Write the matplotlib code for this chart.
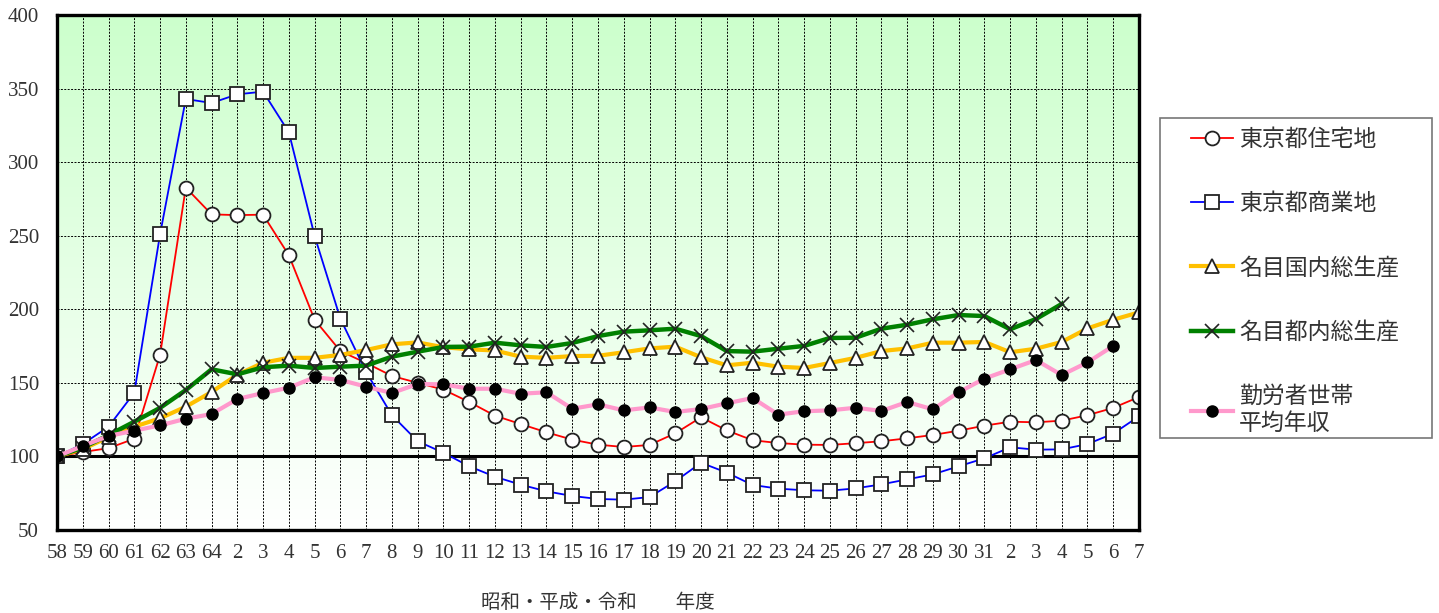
import numpy as np
import matplotlib
matplotlib.use('Agg')
import matplotlib.pyplot as plt
from matplotlib.colors import LinearSegmentedColormap
from matplotlib.patches import Rectangle

plt.rcParams['font.family'] = ['Liberation Serif', 'Noto Sans CJK JP', 'DejaVu Sans']

# 年度ラベル(昭和58〜64、平成2〜31、令和2〜7)
years = ['58', '59', '60', '61', '62', '63', '64'] + [str(i) for i in range(2, 32)] + [str(i) for i in range(2, 8)]

residential = [100, 103, 105.6, 112, 169, 282.7, 264.5, 264, 264.3, 236.7, 192.9, 171.6, 163.5, 154.7, 150,
               145.4, 137, 127.7, 122, 116.4, 111.4, 108, 106.4, 107.8, 115.7, 126.6, 117.7, 111, 109.1,
               108, 107.8, 109, 110.3, 112.3, 114.6, 117.5, 120.9, 123.6, 123.2, 124.3, 128, 133, 140.4]
commercial = [100, 108.4, 120.2, 143.3, 250.9, 342.9, 340.2, 346.1, 347.9, 320.3, 249.8, 193.6, 157.4, 128,
              110.3, 102.5, 93.3, 86.2, 80.8, 76.3, 73.1, 71.1, 70.6, 72.4, 83.1, 95.7, 89, 80.6, 78.1,
              77, 76.7, 78.3, 81, 84.4, 87.8, 93.3, 98.7, 106.2, 104.6, 104.8, 108.4, 115.5, 127.3]
gdp_national = [100, 105, 113, 120.2, 125.9, 133.8, 143.8, 155.5, 163.7, 167, 167, 169, 172.3, 176.2, 177.5,
                174.2, 172.8, 172, 167.8, 167, 168.2, 168.4, 170.8, 173.4, 174.6, 167.4, 161.9, 163.7, 161,
                160.1, 163.5, 167, 171.6, 173.4, 177.3, 177.3, 177.8, 170.8, 173.2, 177.8, 187, 192.9, 197.9]
gdp_tokyo = [100, 106, 114.5, 123.6, 133, 145.1, 159.2, 155.8, 160.6, 161.7, 160.1, 161, 161.7, 167.8, 171.2,
             174.4, 174.6, 177.3, 175.5, 174.4, 177.1, 181.8, 184.8, 185.7, 186.8, 181.8, 171.6, 171.2, 173.2,
             175.1, 180.5, 180.7, 186.8, 189.5, 193.2, 196.1, 195.4, 186.4, 193.4, 203.6]
income = [100, 107.1, 113.9, 117.5, 121.1, 125.6, 128.8, 139, 143.1, 146.7, 153.8, 152, 147.4, 143.1, 149.2,
          149, 146, 146, 142.6, 143.6, 132.4, 135.4, 131.3, 133.3, 130.2, 132.2, 136.1, 139.7, 128.4,
          130.7, 131.3, 133.1, 130.9, 137, 132, 143.6, 152.9, 159.2, 165.5, 155.3, 163.9, 175.1]

W, H = 1439, 613
fig = plt.figure(figsize=(W / 100, H / 100), dpi=100)
ax = fig.add_axes([57 / W, 1 - 530 / H, (1139 - 57) / W, 515 / H])

# 背景のグラデーション(上:薄緑 → 下:白)
cmap = LinearSegmentedColormap.from_list('bg', ['#ffffff', '#ccffcc'])
grad = np.linspace(0, 1, 256).reshape(-1, 1)
ax.imshow(grad, extent=[0, 1, 0, 1], transform=ax.transAxes, cmap=cmap,
          aspect='auto', origin='lower', zorder=0)

x = np.arange(len(years))
ax.plot(x, residential, color='red', lw=1.3, marker='o', ms=10, mfc='white', mec='#222222', mew=1.3,
        label='東京都住宅地', zorder=3)
ax.plot(x, commercial, color='blue', lw=1.3, marker='s', ms=9.5, mfc='white', mec='#222222', mew=1.3,
        label='東京都商業地', zorder=4)
ax.plot(x, gdp_national, color='#ffc000', lw=3, marker='^', ms=10, mfc='white', mec='#222222', mew=1.3,
        label='名目国内総生産', zorder=5)
ax.plot(x[:len(gdp_tokyo)], gdp_tokyo, color='#008000', lw=3.2, marker='x', ms=9.5, mec='#222222', mew=1.2,
        label='名目都内総生産', zorder=6)
ax.plot(x[:len(income)], income, color='#ff99cc', lw=3, marker='o', ms=8, mfc='black', mec='black',
        label='勤労者世帯\n平均年収', zorder=7)

ax.axhline(100, color='black', lw=2.2, zorder=2)

ax.set_xlim(0, len(years) - 1)
ax.set_ylim(50, 400)
ax.set_xticks(x)
ax.set_xticklabels(years)
ax.set_yticks(np.arange(50, 401, 50))
ax.tick_params(length=0, labelsize=15, colors='#333333')
ax.tick_params(axis='x', pad=10)
ax.tick_params(axis='y', pad=13)
ax.grid(True, color='black', ls=(0, (2, 1.5)), lw=0.7, zorder=1)
for s in ax.spines.values():
    s.set_linewidth(2.4)
    s.set_zorder(8)

fig.text(598 / W, 1 - 603 / H, '昭和・平成・令和　　年度', fontsize=14, family=['Noto Sans CJK JP'],
         ha='center', va='center', color='#333333')

# 凡例(枠は別に描く)
fig.patches.append(Rectangle((1160 / W, 1 - 438 / H), 272 / W, 320 / H, transform=fig.transFigure,
                             facecolor='white', edgecolor='#777777', lw=1.2, zorder=0))
leg = fig.legend(loc='upper left', bbox_to_anchor=(1191 / W, 1 - 128 / H),
                 prop={'family': 'Noto Sans CJK JP', 'size': 16.5}, frameon=False,
                 labelspacing=1.8, handlelength=1.85, borderpad=0, borderaxespad=0, handletextpad=0.25)
for t in leg.get_texts():
    t.set_color('#333333')

fig.savefig('out.png', dpi=100)
